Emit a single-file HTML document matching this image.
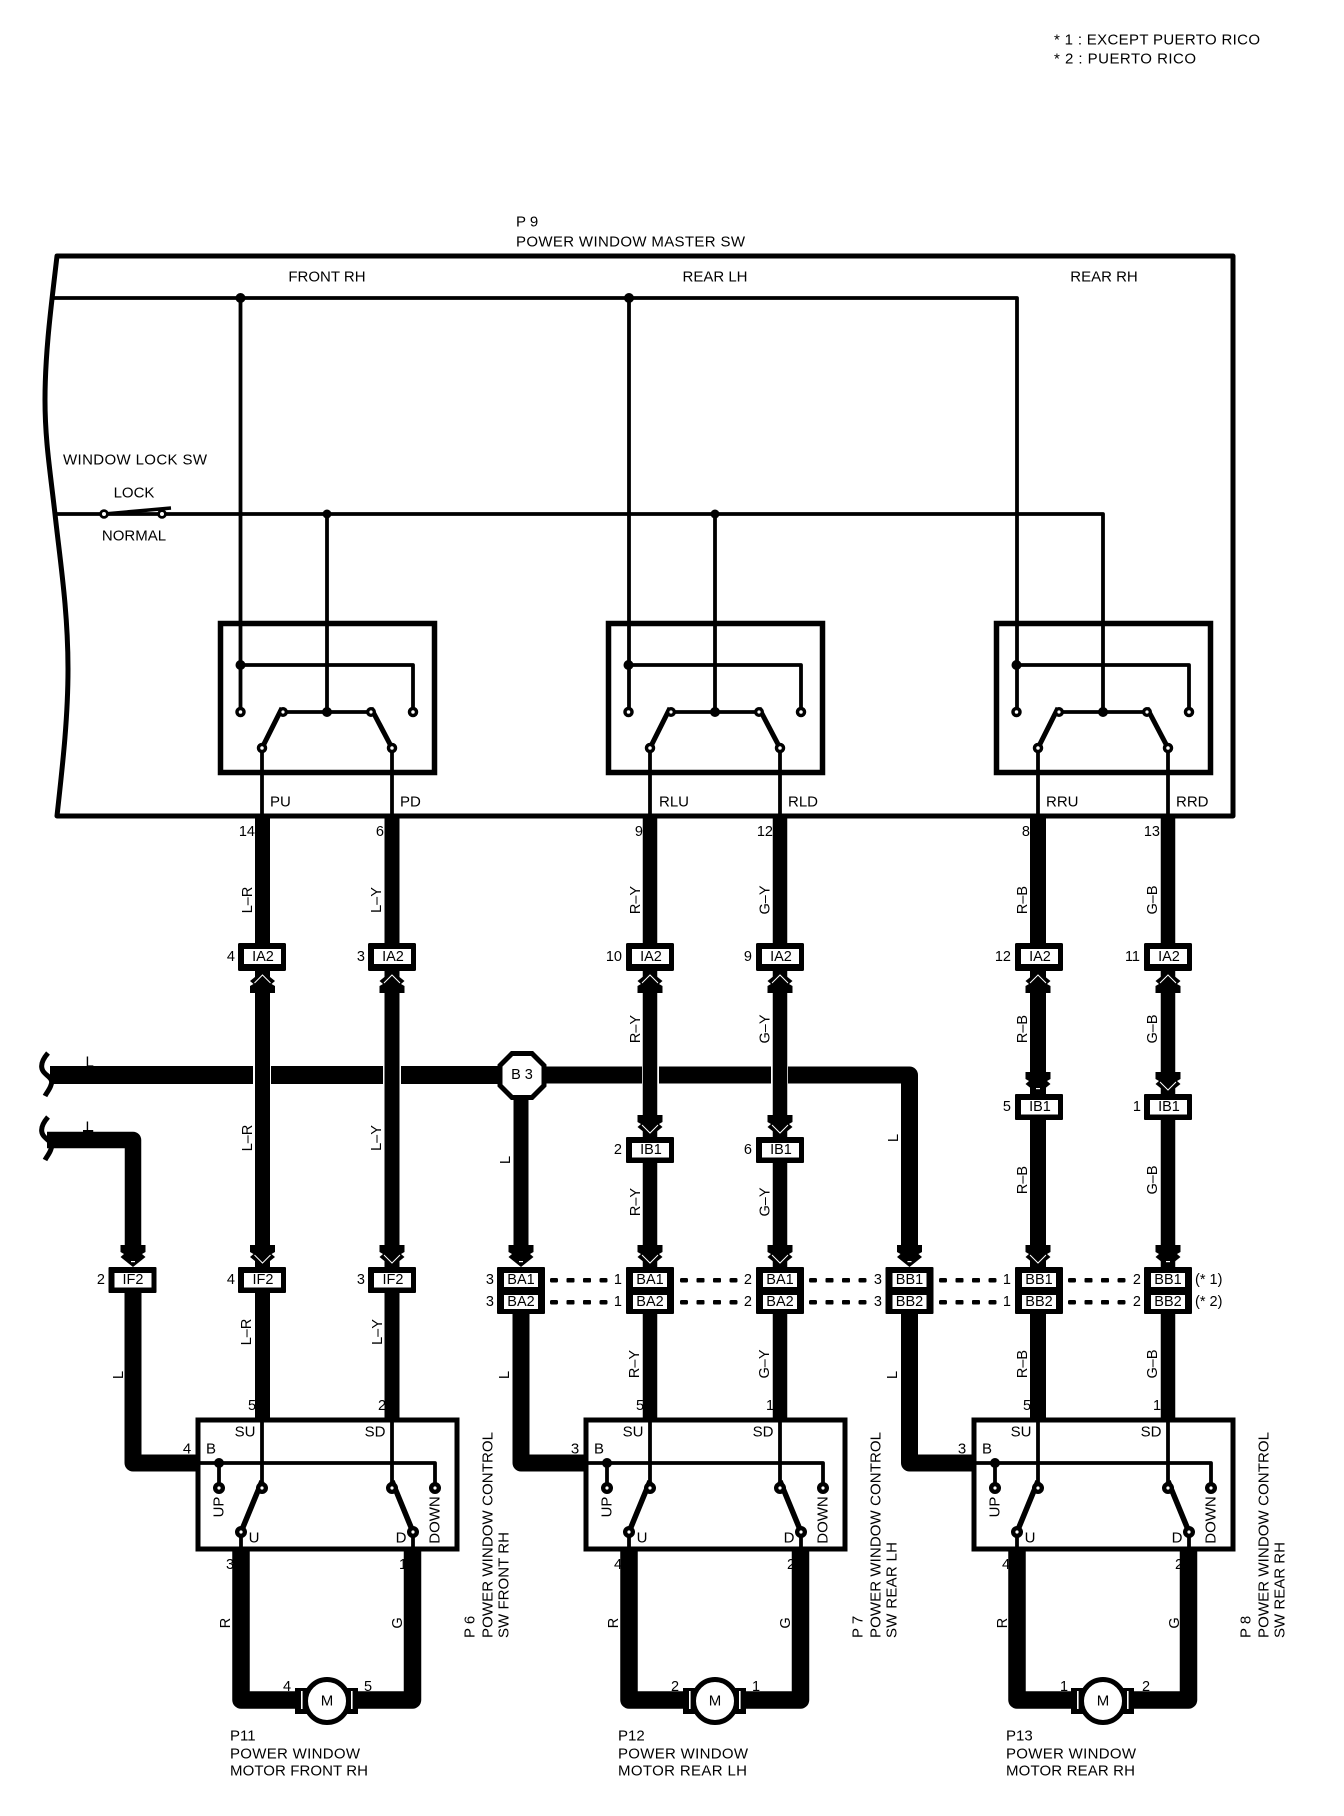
<!DOCTYPE html>
<html><head><meta charset="utf-8"><style>
html,body{margin:0;padding:0;background:#fff}
svg{display:block}
text{font-family:"Liberation Sans",sans-serif;font-size:15px;fill:#000;dominant-baseline:central}
.m{text-anchor:middle}.r{text-anchor:end}.s{font-size:14.5px}
.k{fill:none;stroke:#000;stroke-linejoin:round}
</style></head><body>
<svg xmlns="http://www.w3.org/2000/svg" width="1344" height="1816" viewBox="0 0 1344 1816">
<defs>
<g id="ms">
<rect x="220.500" y="623.500" width="214" height="149" fill="none" stroke="#000" stroke-width="5.500"/>
<path class="k" stroke-width="3.800" d="M240.500 665H413V708M283 712H372M262 816V750M392 816V750"/>
<path class="k" stroke-width="5" d="M262 748L282 708M392 748L371 708"/>
<circle cx="240.500" cy="665" r="5"/><circle cx="327" cy="712" r="5"/>
<circle cx="240.500" cy="712" r="3.500" fill="#fff" stroke="#000" stroke-width="3.500"/>
<circle cx="413" cy="712" r="3.500" fill="#fff" stroke="#000" stroke-width="3.500"/>
<circle cx="283" cy="712" r="3.300" fill="#fff" stroke="#000" stroke-width="3.400"/>
<circle cx="371" cy="712" r="3.300" fill="#fff" stroke="#000" stroke-width="3.400"/>
<circle cx="262" cy="748" r="3.500" fill="#fff" stroke="#000" stroke-width="3.500"/>
<circle cx="392" cy="748" r="3.500" fill="#fff" stroke="#000" stroke-width="3.500"/>
</g>
<g id="cs">
<rect x="198" y="1420" width="259" height="129" fill="#fff" stroke="#000" stroke-width="5"/>
<path class="k" stroke-width="3.800" d="M198 1463H435V1488M219 1463V1488M262 1420V1484M392 1420V1484M241 1532V1549M413 1532V1549"/>
<path class="k" stroke-width="5.500" d="M241 1532L262 1481M413 1532L392 1481"/>
<circle cx="219" cy="1463" r="5"/>
<circle cx="219" cy="1488" r="3.800" fill="#fff" stroke="#000" stroke-width="4.400"/>
<circle cx="435" cy="1488" r="3.800" fill="#fff" stroke="#000" stroke-width="4.400"/>
<circle cx="262" cy="1488" r="3.800" fill="#fff" stroke="#000" stroke-width="4.400"/>
<circle cx="392" cy="1488" r="3.800" fill="#fff" stroke="#000" stroke-width="4.400"/>
<circle cx="241" cy="1532" r="3.800" fill="#fff" stroke="#000" stroke-width="4.400"/>
<circle cx="413" cy="1532" r="3.800" fill="#fff" stroke="#000" stroke-width="4.400"/>
<path class="k" stroke-width="17.500" d="M241 1549V1700H412.500V1549"/>
<rect x="295" y="1688" width="63" height="26"/>
<rect x="301" y="1691" width="1.600" height="18" fill="#fff"/>
<rect x="351" y="1691" width="1.600" height="18" fill="#fff"/>
<circle cx="327" cy="1701" r="21.500" fill="#fff" stroke="#000" stroke-width="5"/>
</g>
<g id="a"><path d="M-12.500-22H12.500V-15L9-13L12.500-10L0 0L-12.500-10L-9-13L-12.500-15Z"/><path d="M-8-12L0-4L8-12" fill="none" stroke="#fff" stroke-width="1"/></g>
<g id="b"><path d="M-12.500-22H12.500V-15L9-13L12.500-10L0 0L-12.500-10L-9-13L-12.500-15Z"/><rect x="-2" y="-6" width="4" height="1.200" fill="#fff"/></g>
<g id="c"><rect x="-24" y="0" width="48" height="28" rx="1.500"/><rect x="-18" y="6" width="37" height="15" fill="#fff"/></g>
<g id="c2"><rect x="-24" y="0" width="48" height="26" rx="1"/><rect x="-18" y="6" width="37" height="14.500" fill="#fff"/></g>
<g id="cc"><rect x="-24" y="0" width="48" height="47" rx="1"/><rect x="-17" y="6" width="34" height="14" fill="#fff"/><rect x="-17" y="28" width="34" height="14" fill="#fff"/></g>
<g id="d"><rect x="-4" y="-2" width="8" height="4.500" rx="1.500"/><rect x="12.500" y="-2" width="8" height="4.500" rx="1"/><rect x="29" y="-2" width="8" height="4.500" rx="1"/><rect x="45.500" y="-2" width="8" height="4.500" rx="1.500"/></g>
</defs>

<text x="1054" y="40" textLength="206">* 1 : EXCEPT PUERTO RICO</text>
<text x="1054" y="59" textLength="142">* 2 : PUERTO RICO</text>
<text x="516" y="222">P 9</text>
<text x="516" y="242" textLength="229">POWER WINDOW MASTER SW</text>

<path class="k" stroke-width="5" d="M57 256H1233V816H57C62 770 68 720 68 669C68 610 60 560 55 514C50 470 45 440 45 400C45 350 52 300 57 256Z"/>
<text class="m" x="327" y="277">FRONT RH</text>
<text class="m" x="715" y="277">REAR LH</text>
<text class="m" x="1104" y="277">REAR RH</text>

<path class="k" stroke-width="3.800" d="M53 298H1017V712M240.500 298V712M629 298V712M55 514H1103V712M327 514V712M715 514V712"/>
<circle cx="240.500" cy="298" r="5"/><circle cx="629" cy="298" r="5"/>
<circle cx="327" cy="514" r="4.500"/><circle cx="715" cy="514" r="4.500"/>
<text x="63" y="460" textLength="144">WINDOW LOCK SW</text>
<text class="m" x="134" y="493">LOCK</text>
<text class="m" x="134" y="536">NORMAL</text>
<path class="k" stroke-width="3.500" d="M104 514L171 508"/>
<circle cx="104" cy="514" r="3.400" fill="#fff" stroke="#000" stroke-width="2.800"/>
<circle cx="162" cy="514" r="3.400" fill="#fff" stroke="#000" stroke-width="2.800"/>

<use href="#ms"/><use href="#ms" transform="translate(388 0)"/><use href="#ms" transform="translate(776 0)"/>
<text x="270" y="802">PU</text><text x="400" y="802">PD</text>
<text x="659" y="802">RLU</text><text x="788" y="802">RLD</text>
<text x="1046" y="802">RRU</text><text x="1176" y="802">RRD</text>

<text class="r s" x="255" y="832">14</text><text class="r s" x="384" y="832">6</text><text class="r s" x="643" y="832">9</text>
<text class="r s" x="773" y="832">12</text><text class="r s" x="1030" y="832">8</text><text class="r s" x="1160" y="832">13</text>

<!-- buses -->
<text x="85.500" y="1062">L</text><text x="85.500" y="1127">L</text>
<path d="M50 1075H500" stroke="#000" stroke-width="18" fill="none"/>
<path class="k" stroke-width="17" d="M546 1075H909.500V1246"/>
<path class="k" stroke-width="16.500" d="M47 1140H133V1246"/>
<rect x="83" y="1130" width="10" height="3"/>
<path class="k" stroke-width="5" d="M48 1053C42 1060 40 1066 43 1071C46 1076 54 1078 51 1085C50 1089 47 1092 45 1096M48 1117C42 1124 40 1130 43 1135C46 1140 54 1142 51 1149C50 1153 47 1156 45 1160"/>
<rect x="253" y="1062" width="18" height="26" fill="#fff"/><rect x="383" y="1062" width="18" height="26" fill="#fff"/>
<rect x="642" y="1062" width="17" height="26" fill="#fff"/><rect x="771" y="1062" width="17" height="26" fill="#fff"/>

<!-- vertical wires -->
<g stroke="#000" fill="none">
<path stroke-width="15" d="M262.500 816V1267M392 816V1267M521 1090V1250M521 1314V1463"/>
<path stroke-width="14.500" d="M650 816V1267M780 816V1267M1168 816V1267"/>
<path stroke-width="16" d="M1038 816V1267"/>
<path stroke-width="15" d="M262.500 1293V1420M392 1293V1420"/>
<path stroke-width="14.500" d="M650 1314V1420M780 1314V1420M1168 1314V1420"/>
<path stroke-width="16" d="M1038 1314V1420"/>
</g>
<path class="k" stroke-width="17" d="M133 1293V1463H198M521 1314V1463H586M909.500 1314V1463H974"/>

<!-- arrows -->
<use href="#a" transform="translate(262.500 971) scale(1 -1)"/><use href="#a" transform="translate(392 971) scale(1 -1)"/>
<use href="#a" transform="translate(650 971) scale(1 -1)"/><use href="#a" transform="translate(780 971) scale(1 -1)"/>
<use href="#a" transform="translate(1038 971) scale(1 -1)"/><use href="#a" transform="translate(1168 971) scale(1 -1)"/>
<use href="#b" transform="translate(133 1267)"/><use href="#a" transform="translate(262.500 1267)"/><use href="#a" transform="translate(392 1267)"/>
<use href="#b" transform="translate(521 1267)"/><use href="#a" transform="translate(650 1267)"/><use href="#a" transform="translate(780 1267)"/>
<use href="#b" transform="translate(909.500 1267)"/><use href="#a" transform="translate(1038 1267)"/><use href="#b" transform="translate(1168 1267)"/>
<use href="#a" transform="translate(650 1137)"/><use href="#a" transform="translate(780 1137)"/>
<use href="#b" transform="translate(1038 1094)"/><use href="#a" transform="translate(1168 1094)"/>

<!-- B3 -->
<path d="M512 1053.500H532L544 1065.500V1085.500L532 1097.500H512L500 1085.500V1065.500Z" fill="#fff" stroke="#000" stroke-width="5"/>
<text class="m s" x="522" y="1075">B 3</text>

<!-- connectors -->
<use href="#c" transform="translate(262 943)"/><use href="#c" transform="translate(392 943)"/><use href="#c" transform="translate(650 943)"/>
<use href="#c" transform="translate(780 943)"/><use href="#c" transform="translate(1039 943)"/><use href="#c" transform="translate(1168 943)"/>
<text class="m s" x="263" y="957">IA2</text><text class="m s" x="393" y="957">IA2</text><text class="m s" x="651" y="957">IA2</text>
<text class="m s" x="781" y="957">IA2</text><text class="m s" x="1040" y="957">IA2</text><text class="m s" x="1169" y="957">IA2</text>
<text class="r s" x="235" y="957">4</text><text class="r s" x="365" y="957">3</text><text class="r s" x="622" y="957">10</text>
<text class="r s" x="752" y="957">9</text><text class="r s" x="1011" y="957">12</text><text class="r s" x="1140" y="957">11</text>

<use href="#c2" transform="translate(650 1137)"/><use href="#c2" transform="translate(780 1137)"/>
<use href="#c2" transform="translate(1039 1094)"/><use href="#c2" transform="translate(1168 1094)"/>
<text class="m s" x="651" y="1150">IB1</text><text class="m s" x="781" y="1150">IB1</text>
<text class="m s" x="1040" y="1107">IB1</text><text class="m s" x="1169" y="1107">IB1</text>
<text class="r s" x="622" y="1150">2</text><text class="r s" x="752" y="1150">6</text>
<text class="r s" x="1011" y="1107">5</text><text class="r s" x="1141" y="1107">1</text>

<use href="#c2" transform="translate(132.500 1267)"/><use href="#c2" transform="translate(262 1267)"/><use href="#c2" transform="translate(392 1267)"/>
<text class="m s" x="133" y="1280">IF2</text><text class="m s" x="263" y="1280">IF2</text><text class="m s" x="393" y="1280">IF2</text>
<text class="r s" x="105" y="1280">2</text><text class="r s" x="235" y="1280">4</text><text class="r s" x="365" y="1280">3</text>

<use href="#cc" transform="translate(521 1267)"/><use href="#cc" transform="translate(650 1267)"/><use href="#cc" transform="translate(780 1267)"/>
<use href="#cc" transform="translate(909.500 1267)"/><use href="#cc" transform="translate(1039 1267)"/><use href="#cc" transform="translate(1168 1267)"/>
<text class="m s" x="521" y="1280">BA1</text><text class="m s" x="521" y="1302">BA2</text>
<text class="m s" x="650" y="1280">BA1</text><text class="m s" x="650" y="1302">BA2</text>
<text class="m s" x="780" y="1280">BA1</text><text class="m s" x="780" y="1302">BA2</text>
<text class="m s" x="909.500" y="1280">BB1</text><text class="m s" x="909.500" y="1302">BB2</text>
<text class="m s" x="1039" y="1280">BB1</text><text class="m s" x="1039" y="1302">BB2</text>
<text class="m s" x="1168" y="1280">BB1</text><text class="m s" x="1168" y="1302">BB2</text>
<text class="r s" x="494" y="1280">3</text><text class="r s" x="494" y="1302">3</text>
<text class="r s" x="622" y="1280">1</text><text class="r s" x="622" y="1302">1</text>
<text class="r s" x="752" y="1280">2</text><text class="r s" x="752" y="1302">2</text>
<text class="r s" x="882" y="1280">3</text><text class="r s" x="882" y="1302">3</text>
<text class="r s" x="1011" y="1280">1</text><text class="r s" x="1011" y="1302">1</text>
<text class="r s" x="1141" y="1280">2</text><text class="r s" x="1141" y="1302">2</text>
<text class="s" x="1195" y="1280">(* 1)</text><text class="s" x="1195" y="1302">(* 2)</text>
<use href="#d" x="554" y="1280"/><use href="#d" x="554" y="1302"/>
<use href="#d" x="684" y="1280"/><use href="#d" x="684" y="1302"/>
<use href="#d" x="813" y="1280"/><use href="#d" x="813" y="1302"/>
<use href="#d" x="943" y="1280"/><use href="#d" x="943" y="1302"/>
<use href="#d" x="1072" y="1280"/><use href="#d" x="1072" y="1302"/>

<!-- wire labels -->
<g class="s">
<text class="m s" transform="translate(248 900) rotate(-90)">L–R</text>
<text class="m s" transform="translate(377 900) rotate(-90)">L–Y</text>
<text class="m s" transform="translate(636 900) rotate(-90)">R–Y</text>
<text class="m s" transform="translate(765.500 900) rotate(-90)">G–Y</text>
<text class="m s" transform="translate(1023 900) rotate(-90)">R–B</text>
<text class="m s" transform="translate(1153 900) rotate(-90)">G–B</text>
<text class="m s" transform="translate(248 1138) rotate(-90)">L–R</text>
<text class="m s" transform="translate(377 1138) rotate(-90)">L–Y</text>
<text class="m s" transform="translate(636 1029) rotate(-90)">R–Y</text>
<text class="m s" transform="translate(765.500 1029) rotate(-90)">G–Y</text>
<text class="m s" transform="translate(1023 1029) rotate(-90)">R–B</text>
<text class="m s" transform="translate(1153 1029) rotate(-90)">G–B</text>
<text class="m s" transform="translate(636 1202) rotate(-90)">R–Y</text>
<text class="m s" transform="translate(765.500 1202) rotate(-90)">G–Y</text>
<text class="m s" transform="translate(1023 1180) rotate(-90)">R–B</text>
<text class="m s" transform="translate(1153 1180) rotate(-90)">G–B</text>
<text class="m s" transform="translate(506 1160) rotate(-90)">L</text>
<text class="m s" transform="translate(894 1138) rotate(-90)">L</text>
<text class="m s" transform="translate(119 1375) rotate(-90)">L</text>
<text class="m s" transform="translate(505 1375) rotate(-90)">L</text>
<text class="m s" transform="translate(893 1375) rotate(-90)">L</text>
<text class="m s" transform="translate(247 1332) rotate(-90)">L–R</text>
<text class="m s" transform="translate(378 1332) rotate(-90)">L–Y</text>
<text class="m s" transform="translate(635 1364) rotate(-90)">R–Y</text>
<text class="m s" transform="translate(765 1364) rotate(-90)">G–Y</text>
<text class="m s" transform="translate(1023 1364) rotate(-90)">R–B</text>
<text class="m s" transform="translate(1153 1364) rotate(-90)">G–B</text>
</g>

<!-- control + motor groups -->
<use href="#cs"/><use href="#cs" transform="translate(388 0)"/><use href="#cs" transform="translate(776 0)"/>

<text class="m" x="187" y="1449">4</text><text class="m" x="211" y="1449">B</text>
<text class="m" x="245" y="1432">SU</text><text class="m" x="375" y="1432">SD</text>
<text class="m s" x="252" y="1406">5</text><text class="m s" x="382" y="1406">2</text>
<text class="m" transform="translate(219 1507) rotate(-90)">UP</text>
<text class="m" transform="translate(435 1520) rotate(-90)">DOWN</text>
<text class="m" x="254" y="1538">U</text><text class="m" x="401" y="1538">D</text>
<text class="m s" x="230" y="1565">3</text><text class="m s" x="403" y="1565">1</text>
<text class="m s" transform="translate(226 1623) rotate(-90)">R</text>
<text class="m s" transform="translate(398 1623) rotate(-90)">G</text>
<text class="m s" x="287" y="1687">4</text><text class="m s" x="368" y="1687">5</text>
<text class="m" x="327" y="1701">M</text>
<text x="230" y="1736">P11</text><text x="230" y="1754" textLength="130">POWER WINDOW</text><text x="230" y="1771" textLength="138">MOTOR FRONT RH</text>
<text transform="translate(470 1638) rotate(-90)">P 6</text>
<text transform="translate(488 1638) rotate(-90)" textLength="206">POWER WINDOW CONTROL</text>
<text transform="translate(504 1638) rotate(-90)" textLength="106">SW FRONT RH</text>

<text class="m" x="575" y="1449">3</text><text class="m" x="599" y="1449">B</text>
<text class="m" x="633" y="1432">SU</text><text class="m" x="763" y="1432">SD</text>
<text class="m s" x="640" y="1406">5</text><text class="m s" x="770" y="1406">1</text>
<text class="m" transform="translate(607 1507) rotate(-90)">UP</text>
<text class="m" transform="translate(823 1520) rotate(-90)">DOWN</text>
<text class="m" x="642" y="1538">U</text><text class="m" x="789" y="1538">D</text>
<text class="m s" x="618" y="1565">4</text><text class="m s" x="791" y="1565">2</text>
<text class="m s" transform="translate(614 1623) rotate(-90)">R</text>
<text class="m s" transform="translate(786 1623) rotate(-90)">G</text>
<text class="m s" x="675" y="1687">2</text><text class="m s" x="756" y="1687">1</text>
<text class="m" x="715" y="1701">M</text>
<text x="618" y="1736">P12</text><text x="618" y="1754" textLength="130">POWER WINDOW</text><text x="618" y="1771" textLength="129">MOTOR REAR LH</text>
<text transform="translate(858 1638) rotate(-90)">P 7</text>
<text transform="translate(876 1638) rotate(-90)" textLength="206">POWER WINDOW CONTROL</text>
<text transform="translate(892 1638) rotate(-90)" textLength="96">SW REAR LH</text>

<text class="m" x="962" y="1449">3</text><text class="m" x="987" y="1449">B</text>
<text class="m" x="1021" y="1432">SU</text><text class="m" x="1151" y="1432">SD</text>
<text class="m s" x="1027" y="1406">5</text><text class="m s" x="1157" y="1406">1</text>
<text class="m" transform="translate(995 1507) rotate(-90)">UP</text>
<text class="m" transform="translate(1211 1520) rotate(-90)">DOWN</text>
<text class="m" x="1030" y="1538">U</text><text class="m" x="1177" y="1538">D</text>
<text class="m s" x="1006" y="1565">4</text><text class="m s" x="1179" y="1565">2</text>
<text class="m s" transform="translate(1003 1623) rotate(-90)">R</text>
<text class="m s" transform="translate(1175 1623) rotate(-90)">G</text>
<text class="m s" x="1064" y="1687">1</text><text class="m s" x="1146" y="1687">2</text>
<text class="m" x="1103" y="1701">M</text>
<text x="1006" y="1736">P13</text><text x="1006" y="1754" textLength="130">POWER WINDOW</text><text x="1006" y="1771" textLength="129">MOTOR REAR RH</text>
<text transform="translate(1246 1638) rotate(-90)">P 8</text>
<text transform="translate(1264 1638) rotate(-90)" textLength="206">POWER WINDOW CONTROL</text>
<text transform="translate(1280 1638) rotate(-90)" textLength="96">SW REAR RH</text>
</svg>
</body></html>
